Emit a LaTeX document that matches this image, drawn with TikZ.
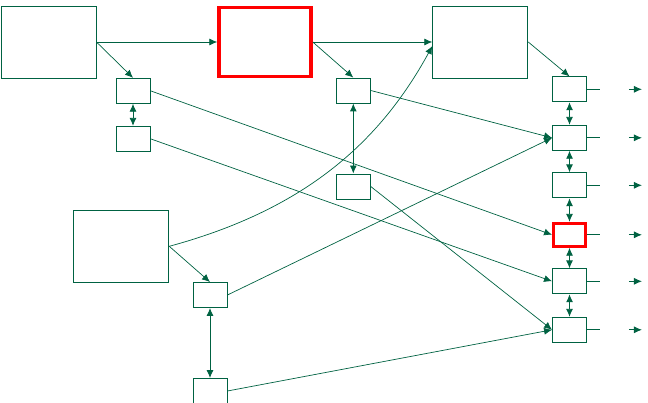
\documentclass[tikz,border=0pt]{standalone}
\usetikzlibrary{arrows.meta}
\definecolor{flowgreen}{RGB}{0,98,66}
\begin{document}
\begin{tikzpicture}[x=1pt, y=-1pt, >={Latex[length=8pt,width=7pt]},
    big/.style={draw=flowgreen, line width=0.9pt, minimum width=95pt, minimum height=72pt, inner sep=0pt},
    small/.style={draw=flowgreen, line width=0.9pt, minimum width=34pt, minimum height=25pt, inner sep=0pt},
    link/.style={draw=flowgreen, line width=0.7pt, ->},
    both/.style={draw=flowgreen, line width=0.9pt, <->}]
  \useasboundingbox (0,0) rectangle (648,403);
  % large blocks
  \node[big] (A) at (48.5,42) {};
  \node[big, draw=red, line width=3.5pt, minimum width=92pt, minimum height=69pt] (B) at (265,42) {};
  \node[big] (C) at (480.3,42) {};
  \node[big] (D) at (121.3,246.3) {};
  % small blocks
  \node[small] (s1) at (133,90.8) {};
  \node[small] (s2) at (133,138.8) {};
  \node[small] (s3) at (353.3,90.5) {};
  \node[small] (s4) at (353.3,186.5) {};
  \node[small] (s5) at (210,295) {};
  \node[small] (s6) at (210,391) {};
  % right column
  \foreach \i/\y in {1/89.3, 2/137.8, 3/185.3, 4/234.8, 5/281.3, 6/329.8}
    \node[small] (r\i) at (569.5,\y) {};
  \node[small, draw=red, line width=2.8pt, minimum width=32pt, minimum height=23pt] at (r4) {};
  % links
  \draw[link] (A.east) -- (B.west);
  \draw[link] (A.east) -- (s1.north);
  \draw[link] (B.east) -- (C.west);
  \draw[link] (B.east) -- (s3.north);
  \draw[link] (C.east) -- (r1.north);
  \draw[link] (D.east) -- (s5.north);
  \draw[link] (D.east) .. controls (301,210.6) and (378,145.7) .. ([yshift=-4pt]C.west);
  \draw[link] (s1.east) -- (r4.west);
  \draw[link] (s2.east) -- (r5.west);
  \draw[link] (s3.east) -- (r2.west);
  \draw[link] (s4.east) -- (r6.west);
  \draw[link] (s5.east) -- (r2.west);
  \draw[link] (s6.east) -- (r6.west);
  \draw[both] (s1.south) -- (s2.north);
  \draw[both] (s3.south) -- (s4.north);
  \draw[both] (s5.south) -- (s6.north);
  \foreach \i [evaluate=\i as \j using int(\i+1)] in {1,...,5}
    \draw[both] (r\i.south) -- (r\j.north);
  % outputs
  \foreach \i in {1,...,6} {
    \path (r\i.east) ++(13,0) coordinate (o\i) ++(29,0) coordinate (p\i) ++(13,0) coordinate (q\i);
    \draw[flowgreen, line width=0.9pt] (r\i.east) -- (o\i);
    \draw[link, line width=0.9pt] (p\i) -- (q\i);
  }
\end{tikzpicture}
\end{document}
